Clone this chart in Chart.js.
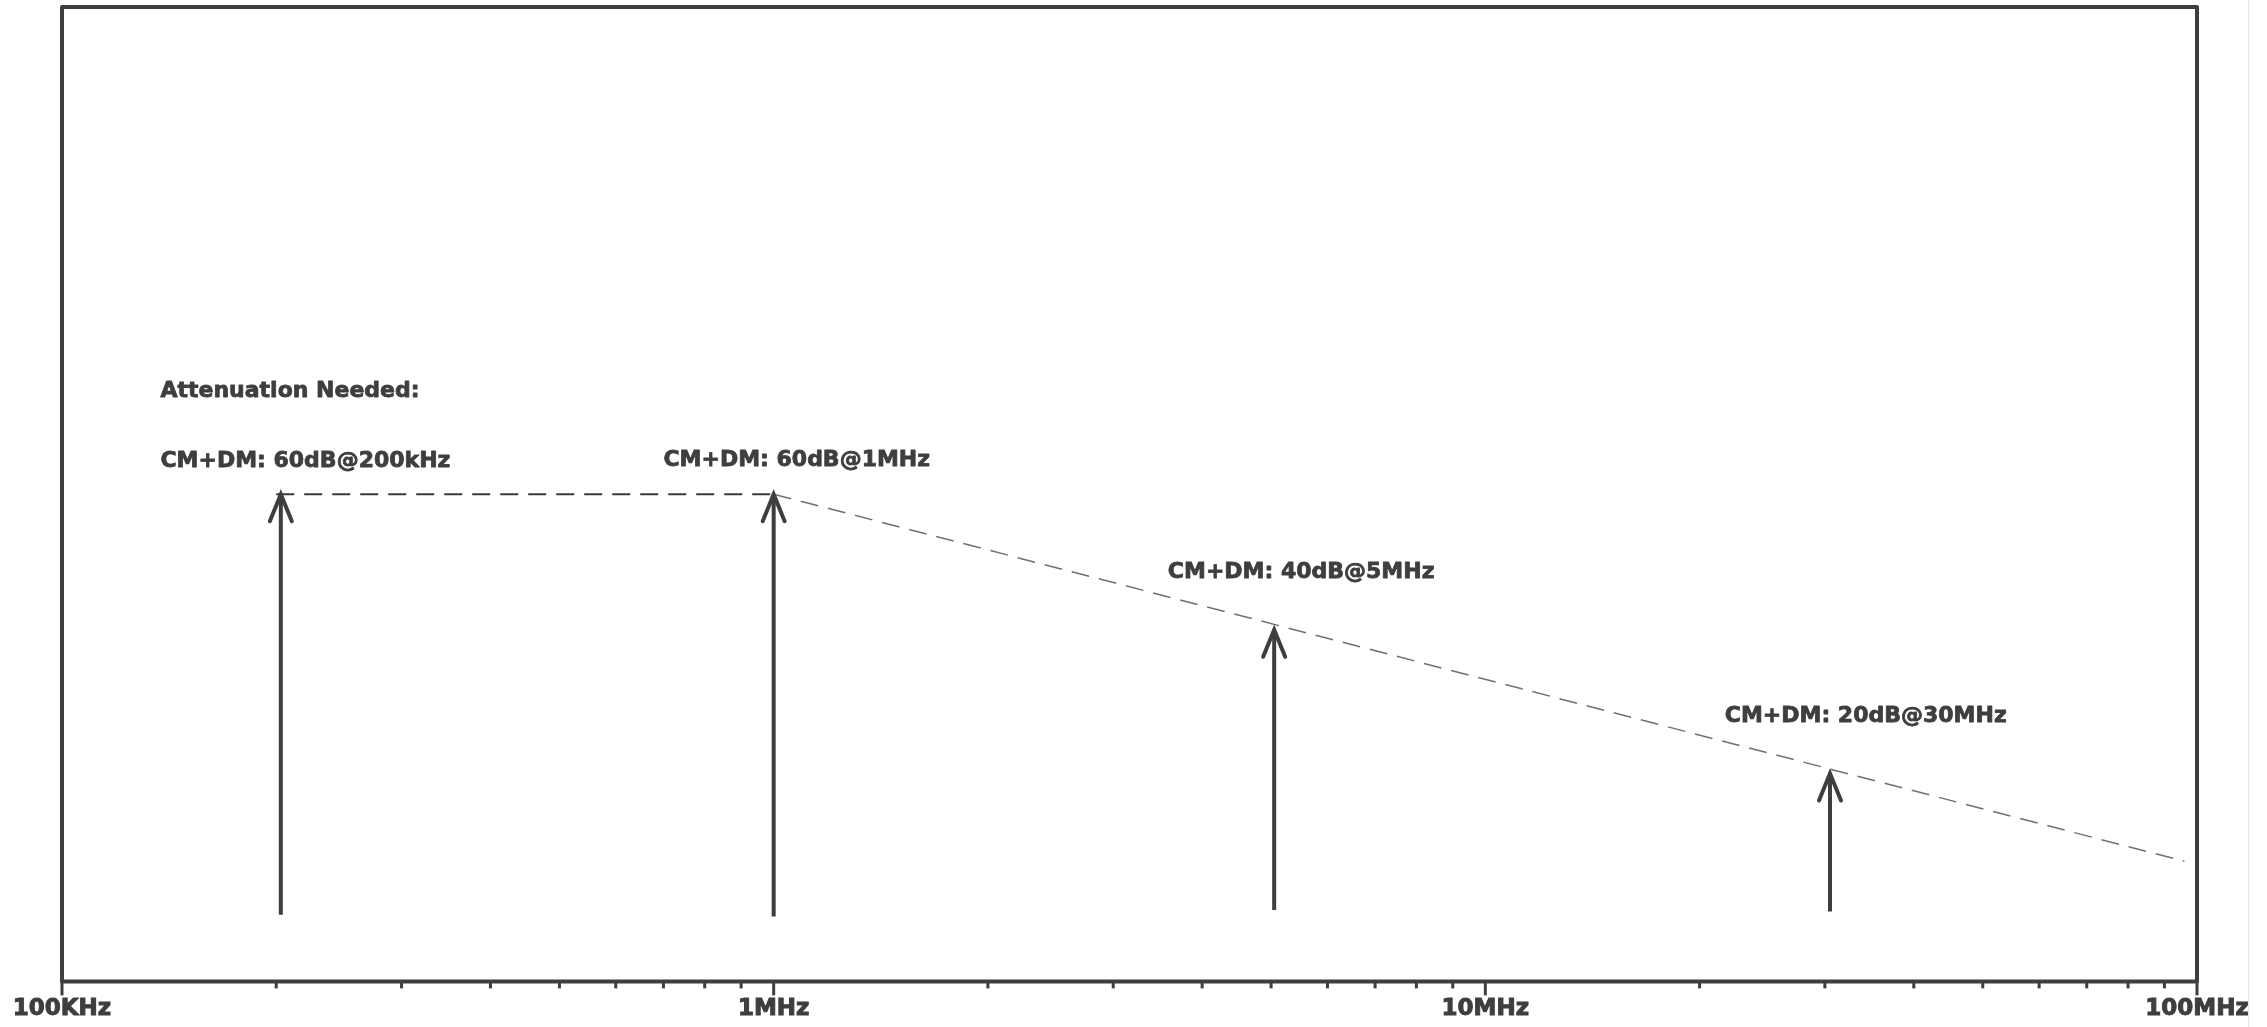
<!DOCTYPE html>
<html>
<head>
<meta charset="utf-8">
<title>Attenuation Needed</title>
<script src="https://cdn.jsdelivr.net/npm/chart.js@4.4.1/dist/chart.umd.min.js"></script>
<style>
  html, body { margin: 0; padding: 0; background: #fff; }
  #wrap { width: 2267px; height: 1027px; }
</style>
</head>
<body>
<div id="wrap"><canvas id="chart"></canvas></div>
<script>
// frequency in Hz, attenuation in dB (y axis is hidden, 0..120)
var curveFreq = [2e5, 1e6, 9.6e7];
var curveDb = [60, 60, 14.8];

var arrowFreq = [2.03e5, 1e6, 5.05e6, 3.05e7];
var arrowBase = [8.2, 8.0, 8.8, 8.6];
var arrowTip = [60, 60, 43.3, 25.6];

var labelText = ['Attenuation Needed:', 'CM+DM: 60dB@200kHz', 'CM+DM: 60dB@1MHz', 'CM+DM: 40dB@5MHz', 'CM+DM: 20dB@30MHz'];
var labelFreq = [1.375e5, 1.375e5, 7.0e5, 3.58e6, 2.17e7];
var labelDb = [72.7, 64.0, 64.2, 50.4, 32.6];

var decades = [1e5, 1e6, 1e7, 1e8];
var decadeText = ['100KHz', '1MHz', '10MHz', '100MHz'];
var minorSteps = [2, 3, 4, 5, 6, 7, 8, 9];

var ink = '#3e3e3e';

function tickValues() {
  var out = [];
  decades.forEach(function (d, i) {
    out.push(d);
    if (i < decades.length - 1) {
      minorSteps.forEach(function (m) { out.push(d * m); });
    }
  });
  return out;
}

var datasets = [{
  data: curveFreq.map(function (f, i) { return { x: f, y: curveDb[i] }; }),
  borderWidth: 1.6,
  borderDash: [18, 10],
  borderColor: '#555',
  segment: {
    borderColor: function (ctx) { return ctx.p0DataIndex === 0 ? '#3a3a3a' : '#707070'; },
    borderWidth: function (ctx) { return ctx.p0DataIndex === 0 ? 2 : 1.5; }
  },
  pointRadius: 0
}];

arrowFreq.forEach(function (f, i) {
  datasets.push({
    arrow: true,
    data: [{ x: f, y: arrowBase[i] }, { x: f, y: arrowTip[i] }],
    borderColor: ink,
    borderWidth: 4,
    pointRadius: 0
  });
});

var extras = {
  id: 'extras',
  afterDatasetsDraw: function (chart) {
    var ctx = chart.ctx;
    var area = chart.chartArea;
    var xs = chart.scales.x;
    var ys = chart.scales.y;
    ctx.save();

    // arrow heads
    ctx.strokeStyle = ink;
    ctx.lineWidth = 4;
    ctx.lineJoin = 'miter';
    ctx.lineCap = 'round';
    chart.data.datasets.forEach(function (ds, i) {
      if (!ds.arrow) return;
      var pts = chart.getDatasetMeta(i).data;
      var tip = pts[pts.length - 1];
      ctx.beginPath();
      ctx.moveTo(tip.x - 11, tip.y + 27);
      ctx.lineTo(tip.x, tip.y);
      ctx.lineTo(tip.x + 11, tip.y + 27);
      ctx.stroke();
    });

    // text labels
    ctx.fillStyle = ink;
    ctx.strokeStyle = ink;
    ctx.lineWidth = 0.8;
    ctx.lineJoin = 'round';
    ctx.font = 'bold 22px "DejaVu Sans"';
    ctx.textAlign = 'left';
    ctx.textBaseline = 'middle';
    labelText.forEach(function (t, i) {
      var px = xs.getPixelForValue(labelFreq[i]);
      var py = ys.getPixelForValue(labelDb[i]);
      ctx.fillText(t, px, py);
      ctx.strokeText(t, px, py);
    });

    // frame
    ctx.strokeStyle = ink;
    ctx.lineWidth = 4;
    ctx.lineJoin = 'round';
    ctx.strokeRect(area.left, area.top, area.right - area.left, area.bottom - area.top);

    // ticks below the axis
    ctx.lineWidth = 3;
    ctx.lineCap = 'butt';
    xs.ticks.forEach(function (t) {
      var px = xs.getPixelForValue(t.value);
      var major = decades.indexOf(t.value) >= 0;
      ctx.beginPath();
      ctx.moveTo(px, area.bottom);
      ctx.lineTo(px, area.bottom + (major ? 14 : 7));
      ctx.stroke();
    });

    // faint page edge on the right
    ctx.strokeStyle = '#e6e6e6';
    ctx.lineWidth = 1;
    ctx.beginPath();
    ctx.moveTo(chart.width - 18.5, 0);
    ctx.lineTo(chart.width - 18.5, chart.height);
    ctx.stroke();

    ctx.restore();
  }
};

var chart = new Chart(document.getElementById('chart'), {
  type: 'line',
  data: { datasets: datasets },
  options: {
    responsive: true,
    maintainAspectRatio: false,
    animation: false,
    events: [],
    layout: { padding: { left: 62, right: 70, top: 7, bottom: 0 } },
    plugins: {
      legend: { display: false },
      tooltip: { enabled: false }
    },
    scales: {
      x: {
        type: 'logarithmic',
        min: 1e5,
        max: 1e8,
        afterBuildTicks: function (scale) {
          scale.ticks = tickValues().map(function (v) { return { value: v }; });
        },
        border: { display: false },
        grid: {
          drawOnChartArea: false,
          drawTicks: true,
          tickLength: 10,
          tickColor: 'rgba(0,0,0,0)'
        },
        ticks: {
          autoSkip: false,
          maxRotation: 0,
          padding: 4,
          color: ink,
          textStrokeColor: ink,
          textStrokeWidth: 1,
          font: { family: 'DejaVu Sans', size: 23, weight: 'bold' },
          callback: function (value) {
            var i = decades.indexOf(value);
            return i >= 0 ? decadeText[i] : '';
          }
        }
      },
      y: {
        type: 'linear',
        min: 0,
        max: 120,
        display: false
      }
    }
  },
  plugins: [extras]
});
</script>
</body>
</html>
